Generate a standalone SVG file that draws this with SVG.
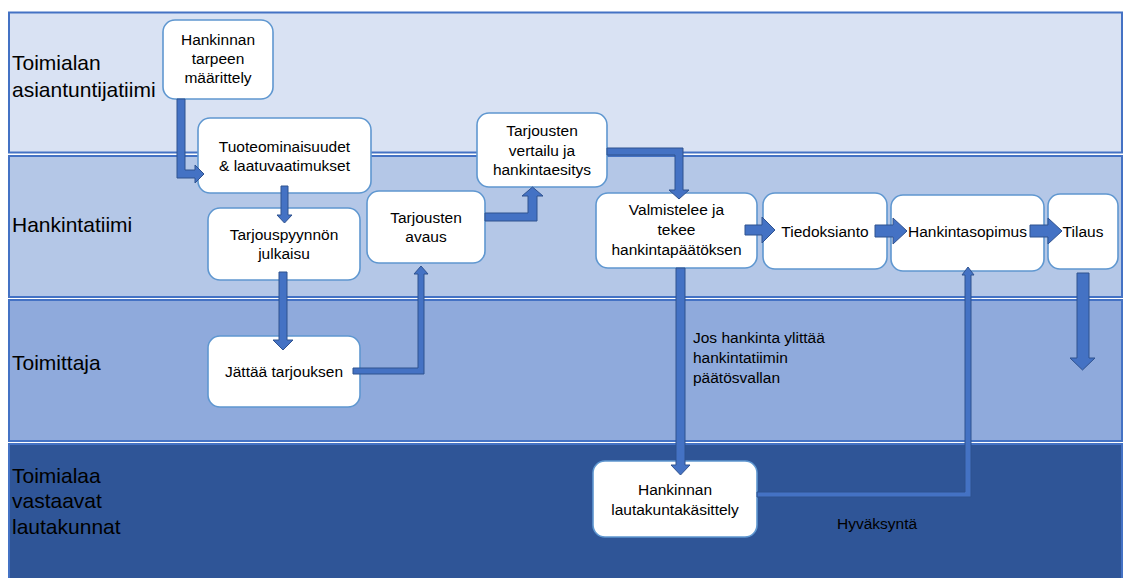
<svg xmlns="http://www.w3.org/2000/svg" width="1123" height="578" viewBox="0 0 1123 578">
  <style>
    .lane { stroke: #4472c4; stroke-width: 2; }
    .lane-label { font-family: "Liberation Sans", Arial, sans-serif; font-size: 21px; fill: #000; }
    .box rect { fill: #ffffff; stroke: #5f97d0; stroke-width: 1.6; }
    .box text { font-family: "Liberation Sans", Arial, sans-serif; font-size: 15.5px; fill: #000; text-anchor: middle; }
    .arr { fill: #4472c4; stroke: #2f528f; stroke-width: 1; stroke-linejoin: miter; }
    .note { font-family: "Liberation Sans", Arial, sans-serif; font-size: 15.5px; fill: #000; }
  </style>

  <rect width="1123" height="578" fill="#ffffff"/>

  <!-- swimlanes -->
  <g id="lanes">
    <rect class="lane" x="9" y="12.5" width="1113" height="140" fill="#d9e2f3"/>
    <rect class="lane" x="9" y="156" width="1113" height="141" fill="#b4c7e7"/>
    <rect class="lane" x="9" y="300" width="1113" height="141" fill="#8faadc"/>
    <rect class="lane" x="9" y="444" width="1113" height="140" fill="#2f5597"/>
    <text class="lane-label" x="12" y="70">Toimialan</text>
    <text class="lane-label" x="12" y="97">asiantuntijatiimi</text>
    <text class="lane-label" x="12" y="232">Hankintatiimi</text>
    <text class="lane-label" x="12" y="370">Toimittaja</text>
    <text class="lane-label" x="12" y="483">Toimialaa</text>
    <text class="lane-label" x="12" y="508">vastaavat</text>
    <text class="lane-label" x="12" y="534">lautakunnat</text>
  </g>

  <!-- process steps -->
  <g id="n-maarittely" class="box">
    <rect x="163" y="20" width="110" height="79" rx="12"/>
    <text x="218" y="45">Hankinnan</text>
    <text x="218" y="64">tarpeen</text>
    <text x="218" y="83">määrittely</text>
  </g>
  <g id="n-tuoteominaisuudet" class="box">
    <rect x="198" y="118" width="173" height="75" rx="12"/>
    <text x="284.5" y="152">Tuoteominaisuudet</text>
    <text x="284.5" y="171">&amp; laatuvaatimukset</text>
  </g>
  <g id="n-tarjouspyynto" class="box">
    <rect x="208" y="208" width="152" height="72" rx="12"/>
    <text x="284" y="240">Tarjouspyynnön</text>
    <text x="284" y="259">julkaisu</text>
  </g>
  <g id="n-avaus" class="box">
    <rect x="367" y="191" width="118" height="72" rx="12"/>
    <text x="426" y="223">Tarjousten</text>
    <text x="426" y="242">avaus</text>
  </g>
  <g id="n-vertailu" class="box">
    <rect x="477" y="113" width="130" height="74" rx="12"/>
    <text x="542" y="136">Tarjousten</text>
    <text x="542" y="156">vertailu ja</text>
    <text x="542" y="175">hankintaesitys</text>
  </g>
  <g id="n-paatos" class="box">
    <rect x="596" y="193" width="161" height="75" rx="12"/>
    <text x="676.5" y="215">Valmistelee ja</text>
    <text x="676.5" y="235">tekee</text>
    <text x="676.5" y="255">hankintapäätöksen</text>
  </g>
  <g id="n-tiedoksianto" class="box">
    <rect x="763" y="193" width="124" height="76" rx="12"/>
    <text x="825" y="237">Tiedoksianto</text>
  </g>
  <g id="n-sopimus" class="box">
    <rect x="891" y="195" width="153" height="76" rx="12"/>
    <text x="967.5" y="237">Hankintasopimus</text>
  </g>
  <g id="n-tilaus" class="box">
    <rect x="1048" y="194" width="70" height="75" rx="12"/>
    <text x="1083" y="237">Tilaus</text>
  </g>
  <g id="n-tarjous" class="box">
    <rect x="208" y="336" width="152" height="71" rx="12"/>
    <text x="284" y="377">Jättää tarjouksen</text>
  </g>
  <g id="n-lautakunta" class="box">
    <rect x="593" y="461" width="164" height="76" rx="12"/>
    <text x="675" y="495">Hankinnan</text>
    <text x="675" y="515">lautakuntakäsittely</text>
  </g>

  <!-- block arrows -->
  <g id="connectors">
    <polygon class="arr" points="177,99 177,178 195,178 195,183 204,174 195,165 195,170 185,170 185,99"/>
    <polygon class="arr" points="281,186 281,215 277,215 284.5,223 292,215 288,215 288,186"/>
    <polygon class="arr" points="279,272 279,340 273,340 283,350 293,340 287,340 287,272"/>
    <polygon class="arr" points="353,368 418,368 418,274 414,274 421,266 428,274 424,274 424,374 353,374"/>
    <polygon class="arr" points="485,213 528,213 528,196 522,196 532.5,187 543,196 537,196 537,221 485,221"/>
    <polygon class="arr" points="607,148 683,148 683,190 689,190 679,199 669,190 675,190 675,155 607,155"/>
    <polygon class="arr" points="745,225 762,225 762,217 775,230 762,243 762,235 745,235"/>
    <polygon class="arr" points="875,225 893,225 893,218 907,231 893,244 893,237 875,237"/>
    <polygon class="arr" points="1030,225 1048,225 1048,218 1062,231 1048,244 1048,237 1030,237"/>
    <polygon class="arr" points="1077,273 1089,273 1089,358 1095,358 1082.5,370 1070,358 1077,358"/>
    <polygon class="arr" points="676,268 685,268 685,465 690,465 680.5,475 671,465 676,465"/>
    <polygon class="arr" points="757,492 965,492 965,275 962,275 968,267 974,275 971,275 971,497 757,497"/>
  </g>

  <!-- connector labels -->
  <g id="labels">
    <text class="note" x="693" y="343">Jos hankinta ylittää</text>
    <text class="note" x="693" y="363">hankintatiimin</text>
    <text class="note" x="693" y="383">päätösvallan</text>
    <text class="note" x="837" y="529">Hyväksyntä</text>
  </g>
</svg>
